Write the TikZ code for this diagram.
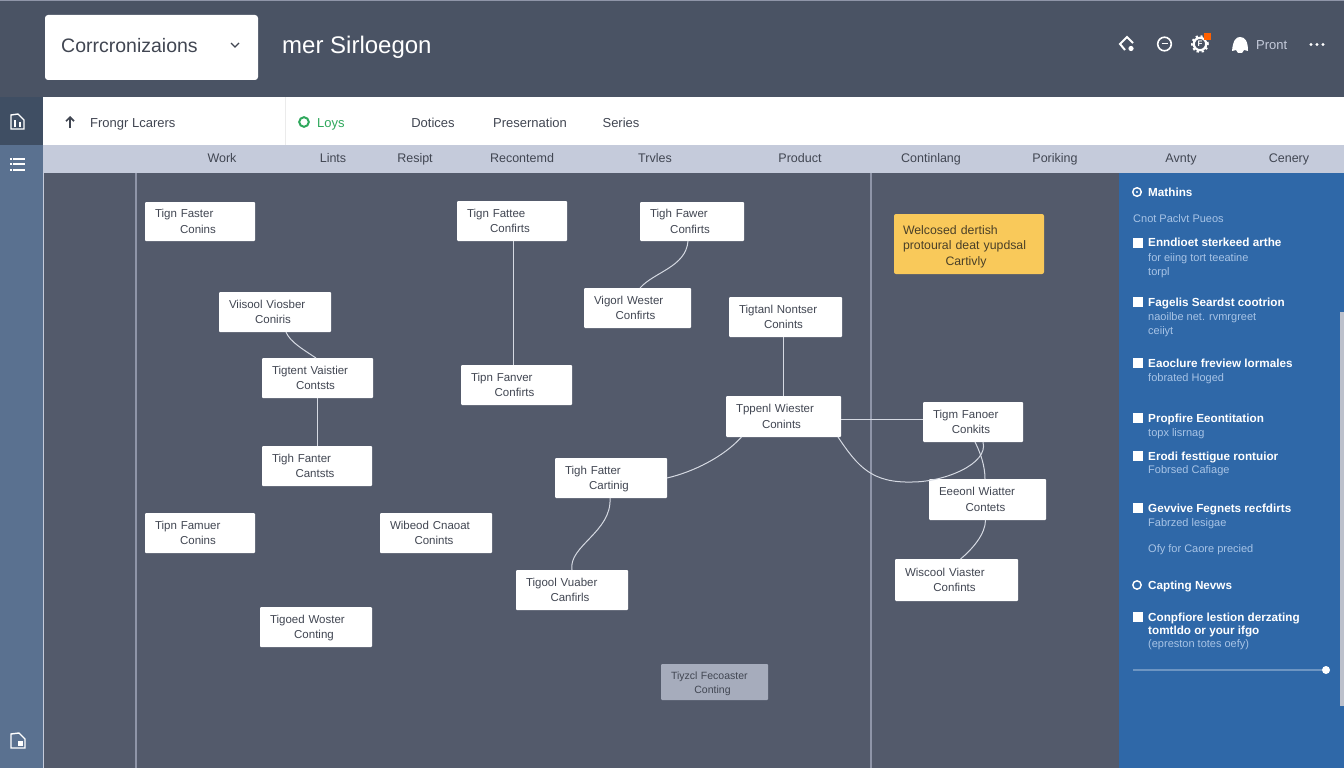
\documentclass[tikz,border=0pt]{standalone}
\usepackage{fontspec}
\usetikzlibrary{arrows.meta}
\setmainfont{Liberation Sans}
\definecolor{hdr}{HTML}{4A5364}
\definecolor{canvas}{HTML}{535A6B}
\definecolor{colbar}{HTML}{C5CBDB}
\definecolor{sideA}{HTML}{3F4E63}
\definecolor{sideB}{HTML}{5A7190}
\definecolor{panel}{HTML}{2F68A8}
\definecolor{vline}{HTML}{8F95A8}
\definecolor{wire}{HTML}{D5D9E2}
\definecolor{ink}{HTML}{414652}
\definecolor{subink}{HTML}{A8C4E6}
\definecolor{amber}{HTML}{F9C95A}
\definecolor{amberink}{HTML}{4A4028}
\definecolor{greyc}{HTML}{A6ACBC}
\definecolor{tabgreen}{HTML}{2FA85C}
\tikzset{
  cardbox/.style={fill=white,rounded corners=1pt,inner sep=0pt,outer sep=0pt,text=ink,font=\fontsize{11.5}{15.5}\selectfont},
  greybox/.style={cardbox,fill=greyc,font=\fontsize{10.5}{13.5}\selectfont},
  conn/.style={wire,line width=1pt},
  coltext/.style={font=\fontsize{12.5}{15}\selectfont,text=ink,inner sep=0pt,anchor=base,yshift=-4.5pt},
  tabtext/.style={font=\fontsize{13}{15}\selectfont,text=ink,inner sep=0pt,anchor=base,yshift=-4.5pt},
  pbold/.style={anchor=base west,yshift=-4pt,inner sep=0pt,text=white,font=\fontsize{11.7}{14}\bfseries\selectfont},
  psub/.style={anchor=base west,yshift=-4pt,inner sep=0pt,text=subink,font=\fontsize{11}{14}\selectfont},
  bullet/.style={fill=white,draw=none},
  iconw/.style={white,line width=1.4pt}
}
\newcommand{\flow}[7][cardbox]{%
  \pgfmathsetmacro\cw{#5-#3}\pgfmathsetmacro\ch{#6-#4}%
  \pgfmathsetmacro\cx{(#3+#5)/2}\pgfmathsetmacro\cy{(#4+#6)/2}%
  \pgfmathsetmacro\tw{\cw-20}%
  \node[#1,minimum width=\cw pt,minimum height=\ch pt,text width=\tw pt] (#2) at (\cx,\cy) {\raggedright\rule{0pt}{13pt}#7};}
\newcommand{\twolines}[2]{#1\par{\centering\hspace*{-4pt}\strut #2\par}}
\newcommand{\pitem}[2]{\node[bullet,minimum size=10pt,inner sep=0pt] at (1138,#1) {};\node[pbold] at (1148,#1) {#2};}
\begin{document}
\begin{tikzpicture}[x=1pt,y=-1pt]
\useasboundingbox (0,0) rectangle (1344,768);
% backgrounds
\fill[hdr] (0,0) rectangle (1344,97);
\fill[vline] (0,0) rectangle (1344,1);
\fill[canvas] (43,173) rectangle (1119,768);
\fill[white] (43,97) rectangle (1344,145);
\fill[colbar] (43,145) rectangle (1344,173);
\fill[sideA] (0,97) rectangle (43,145);
\fill[sideB] (0,145) rectangle (43,768);
\fill[panel] (1119,173) rectangle (1344,768);
\fill[vline!60!white] (1340,312) rectangle (1344,706);
\draw[white!92!black,line width=.8pt] (285,97) -- (285,145);
\draw[colbar,line width=1pt] (43.5,173) -- (43.5,768);
\draw[vline,line width=1.2pt] (136,173) -- (136,768);
\draw[vline,line width=1.2pt] (871,173) -- (871,768);
% header
\node[fill=white,rounded corners=3pt,minimum width=213pt,minimum height=65pt,inner sep=0pt] (dropdown) at (151.5,47.5) {};
\node[anchor=base west,inner sep=0pt,text=ink,font=\fontsize{19.5}{22}\selectfont] (droptext) at (61,53) {Corrcronizaions};
\draw[ink,line width=1.1pt] (231,43) -- (235,47) -- (239,43);
\node[anchor=base west,inner sep=0pt,text=white,font=\fontsize{24}{28}\selectfont] (htitle) at (282,54) {mer Sirloegon};
% header icons
\draw[iconw,line width=2pt] (1125,50) -- (1120,44) -- (1127,37) -- (1133,43);
\fill[white] (1131,48.5) circle (2.6pt);
\draw[iconw,line width=1.6pt] (1164.5,44) circle (6.8pt);
\draw[white,line width=1pt] (1161.5,44) -- (1167.5,44);
\draw[white,line width=2.2pt] (1200,44) circle (6.2pt);
\draw[white,line width=3.4pt,dash pattern=on 2pt off 2.4pt] (1200,44) circle (7.2pt);
\node[text=white,inner sep=0pt,font=\fontsize{8}{9}\bfseries\selectfont] at (1200,44) {F};
\fill[orange!75!red] (1204,33) rectangle (1211,40);
\fill[white] (1232,51) .. controls (1233,40) and (1236,37) .. (1240,37) .. controls (1245,37) and (1248,41) .. (1248,51) -- (1244,50) -- (1242,53) -- (1238,53) -- (1236,50) -- cycle;
\node[anchor=base west,inner sep=0pt,text=colbar,font=\fontsize{13}{15}\selectfont] (hprint) at (1256,49) {Pront};
\foreach \dx in {1311,1317,1323} \fill[white] (\dx,44.5) circle (1.7pt);
% side icons
\draw[white,line width=1.4pt] (11,115) -- (11,129) -- (24,129) -- (24,120) -- (18,114) -- cycle;
\fill[white] (14,120) rectangle (16,127);\fill[white] (19,122) rectangle (21,127);
\foreach \yy in {159,164,170} {\draw[white,line width=1.5pt] (13,\yy) -- (25,\yy); \fill[white] (9.5,\yy-1) rectangle (12,\yy+1);}
\draw[white,line width=1.4pt] (11,734) -- (11,748) -- (25,748) -- (25,739) -- (19,733) -- cycle;
\fill[white] (18,741) rectangle (23,746);
% tabs
\draw[ink,line width=1.7pt,-{Straight Barb[length=4pt,width=8pt]}] (70,128) -- (70,116);
\node[tabtext,anchor=base west] (tabA) at (90,122.5) {Frongr Lcarers};
\draw[tabgreen,line width=2pt] (304,122) circle (4.8pt);
\node[tabtext,anchor=base west,text=tabgreen] (tabB) at (317,122.5) {Loys};
\node[tabtext] (tabC) at (433,122.5) {Dotices};
\node[tabtext] (tabD) at (530,122.5) {Presernation};
\node[tabtext] (tabE) at (621,122.5) {Series};
% columns
\node[coltext] (c1) at (222,158) {Work};
\node[coltext] (c2) at (333,158) {Lints};
\node[coltext] (c3) at (415,158) {Resipt};
\node[coltext] (c4) at (522,158) {Recontemd};
\node[coltext] (c5) at (655,158) {Trvles};
\node[coltext] (c6) at (800,158) {Product};
\node[coltext] (c7) at (931,158) {Continlang};
\node[coltext] (c8) at (1055,158) {Poriking};
\node[coltext] (c9) at (1181,158) {Avnty};
\node[coltext] (c10) at (1289,158) {Cenery};
% cards
\flow{nA}{145}{202}{255}{241}{\twolines{Tign Faster}{Conins}}
\flow{nB}{219}{292}{331}{332}{\twolines{Viisool Viosber}{Coniris}}
\flow{nC}{262}{358}{373}{398}{\twolines{Tigtent Vaistier}{Contsts}}
\flow{nD}{262}{446}{372}{486}{\twolines{Tigh Fanter}{Cantsts}}
\flow{nE}{145}{513}{255}{553}{\twolines{Tipn Famuer}{Conins}}
\flow{nF}{380}{513}{492}{553}{\twolines{Wibeod Cnaoat}{Conints}}
\flow{nG}{260}{607}{372}{647}{\twolines{Tigoed Woster}{Conting}}
\flow{nH}{457}{201}{567}{241}{\twolines{Tign Fattee}{Confirts}}
\flow{nI}{640}{202}{744}{241}{\twolines{Tigh Fawer}{Confirts}}
\flow{nJ}{584}{288}{691}{328}{\twolines{Vigorl Wester}{Confirts}}
\flow{nK}{461}{365}{572}{405}{\twolines{Tipn Fanver}{Confirts}}
\flow{nL}{729}{297}{842}{337}{\twolines{Tigtanl Nontser}{Conints}}
\flow{nM}{726}{396}{841}{437}{\twolines{Tppenl Wiester}{Conints}}
\flow{nN}{923}{402}{1023}{442}{\twolines{Tigm Fanoer}{Conkits}}
\flow{nO}{929}{479}{1046}{520}{\twolines{Eeeonl Wiatter}{Contets}}
\flow{nP}{895}{559}{1018}{601}{\twolines{Wiscool Viaster}{Confints}}
\flow{nQ}{555}{458}{667}{498}{\twolines{Tigh Fatter}{Cartinig}}
\flow{nR}{516}{570}{628}{610}{\twolines{Tigool Vuaber}{Canfirls}}
\flow[greybox]{nS}{661}{664}{768}{700}{\twolines{Tiyzcl Fecoaster}{Conting}}
\node[fill=amber,rounded corners=2pt,minimum width=150pt,minimum height=60pt,inner sep=0pt,text width=132pt,text=amberink,font=\fontsize{12.3}{15.5}\selectfont] (nY) at (969,244) {\raggedright\rule{0pt}{14pt}Welcosed dertish\par protoural deat yupdsal\par{\centering\hspace*{-6pt}Cartivly\par}};
% connectors
\draw[conn] ([xshift=11pt]nB.south) .. controls +(4,10) and +(-12,-8) .. ([xshift=-1.5pt]nC.north);
\draw[conn] ([xshift=-0.5pt]nC.south) -- ([xshift=0pt]nD.north);
\draw[conn] ([xshift=1pt]nH.south) -- ([xshift=1pt]nH.south |- nK.north);
\draw[conn] ([xshift=-4pt]nI.south) .. controls +(-2,26) and +(14,-16) .. ([xshift=2.5pt]nJ.north);
\draw[conn] ([xshift=-2.5pt]nL.south) -- ([xshift=-2.5pt]nL.south |- nM.north);
\draw[conn] ([yshift=-2.5pt]nM.east) -- ([yshift=-2.5pt]nM.east -| nN.west);
\draw[conn] ([xshift=-42pt]nM.south) .. controls +(-18,20) and +(26,-6) .. ([yshift=-0pt]nQ.east);
\draw[conn] ([xshift=-3pt]nM.south east) .. controls +(20,30) and +(-40,1) .. (912,482) .. controls +(32,0) and +(6,22) .. ([xshift=10pt]nN.south);
\draw[conn] ([xshift=2pt]nN.south) .. controls +(5,10) and +(0,-14) .. ([xshift=-2.5pt]nO.north);
\draw[conn] ([xshift=-2pt]nO.south) .. controls +(0,14) and +(12,-10) .. ([xshift=4pt]nP.north);
\draw[conn] ([xshift=-1pt]nQ.south) .. controls +(2,34) and +(-4,-24) .. ([xshift=-0pt]nR.north);
% panel
\draw[white,line width=1.4pt] (1137,192) circle (4.3pt);
\fill[white] (1137,192) circle (1.2pt);
\node[pbold] (pHead) at (1148,192) {Mathins};
\node[psub] (pIntro) at (1133,218.5) {Cnot Paclvt Pueos};
\pitem{242.5}{Enndioet sterkeed arthe}
\node[psub] at (1148,257) {for eiing tort teeatine};
\node[psub] at (1148,271) {torpl};
\pitem{302}{Fagelis Seardst cootrion}
\node[psub] at (1148,316) {naoilbe net. rvmrgreet};
\node[psub] at (1148,330) {ceiiyt};
\pitem{363}{Eaoclure freview lormales}
\node[psub] at (1148,377) {fobrated Hoged};
\pitem{418}{Propfire Eeontitation}
\node[psub] at (1148,432) {topx lisrnag};
\pitem{456}{Erodi festtigue rontuior}
\node[psub] at (1148,469) {Fobrsed Cafiage};
\pitem{508}{Gevvive Fegnets recfdirts}
\node[psub] at (1148,522) {Fabrzed lesigae};
\node[psub] at (1148,548.5) {Ofy for Caore precied};
\draw[white,line width=1.4pt] (1137,585) circle (4.2pt);
\node[pbold] (pHeadB) at (1148,585) {Capting Nevws};
\pitem{617}{Conpfiore lestion derzating}
\node[pbold] at (1148,630) {tomtldo or your ifgo};
\node[psub] at (1148,643) {(epreston totes oefy)};
\coordinate (slideA) at (1133,670);
\node[circle,fill=white,minimum size=8pt,inner sep=0pt] (slideB) at (1326,670) {};
\draw[panel!70!white,line width=1.2pt] (slideA) -- (slideB);
\end{tikzpicture}
\end{document}
